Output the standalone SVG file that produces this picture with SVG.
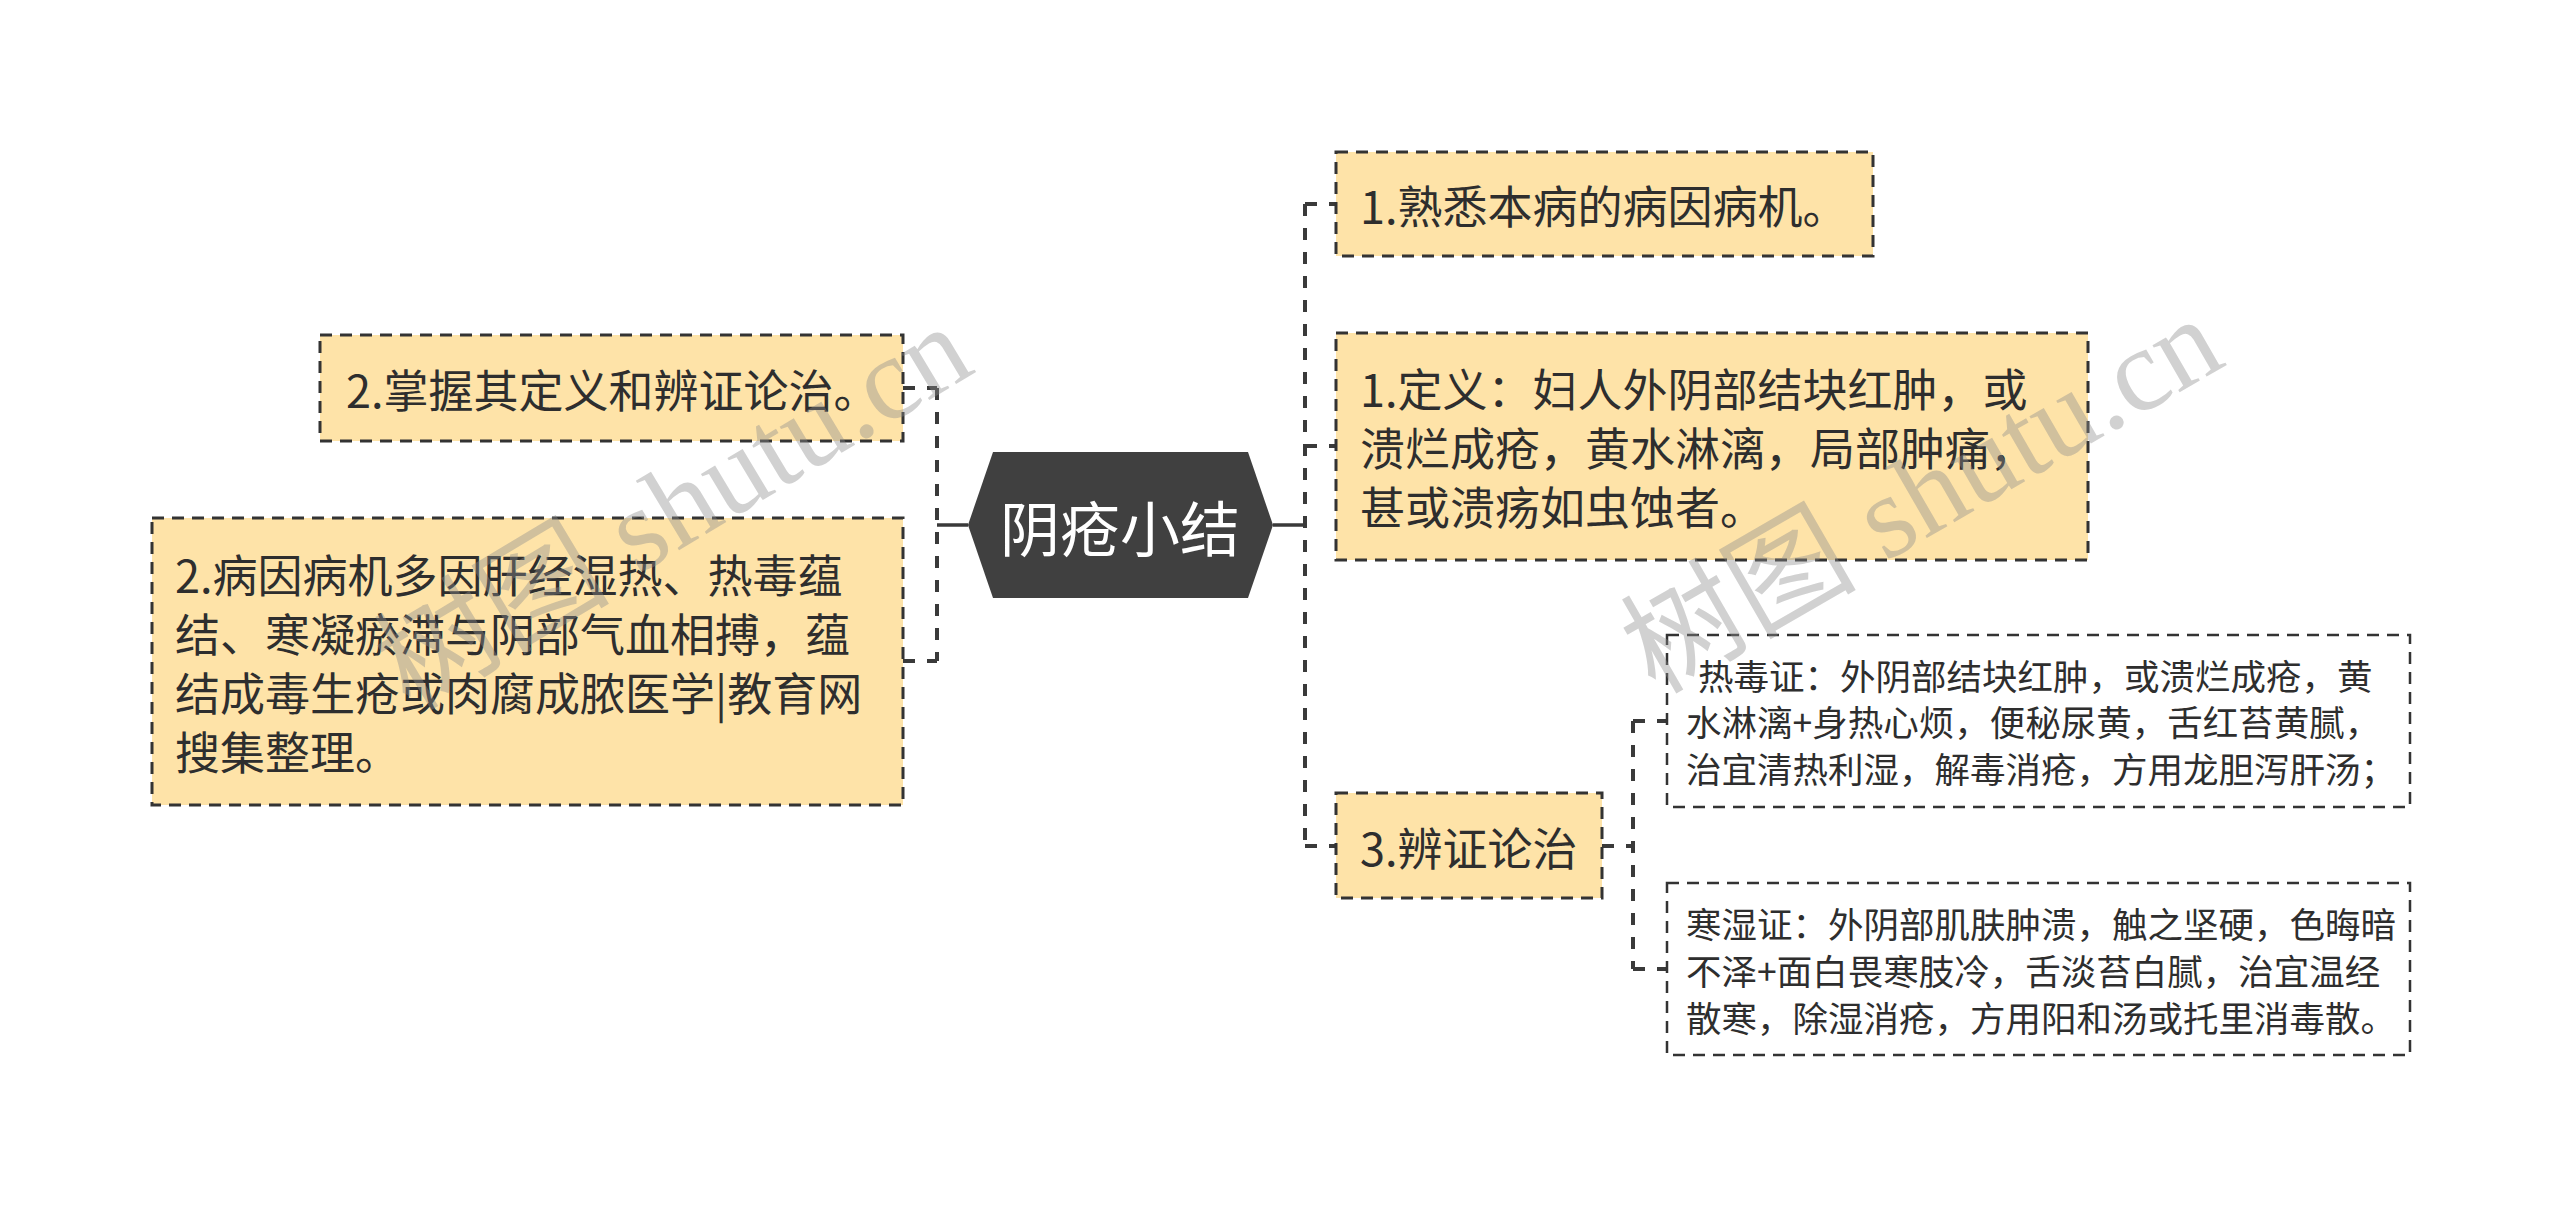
<svg xmlns="http://www.w3.org/2000/svg" width="2560" height="1206" viewBox="0 0 2560 1206">
<style>
.box{fill:#FEE3A8;stroke:#333;stroke-width:3;stroke-dasharray:12 8}
.wbox{fill:#fff;stroke:#333;stroke-width:2.5;stroke-dasharray:12 8}
.t{font-family:"Noto Sans CJK SC","Noto Sans",sans-serif;font-size:45px;fill:#2e2e2e;dominant-baseline:central}
.s{font-family:"Noto Sans CJK SC","Noto Sans",sans-serif;font-size:35.5px;fill:#2e2e2e;dominant-baseline:central}
.c{font-family:"Noto Sans CJK SC","Noto Sans",sans-serif;font-size:60px;fill:#fff;dominant-baseline:central;text-anchor:middle}
.dl{fill:none;stroke:#3a3a3a;stroke-width:4;stroke-dasharray:12 12}
.sl{fill:none;stroke:#3a3a3a;stroke-width:3.5}
.wm{font-family:"Liberation Serif","Noto Sans CJK SC",serif;font-size:118px;fill:#8c8c8c;fill-opacity:0.4}
</style>
<rect width="2560" height="1206" fill="#fff"/>
<g id="connectors">
<path class="sl" d="M1273 525 H1305"/>
<path class="sl" d="M968 525 H937"/>
<path class="dl" d="M1305 204 V846"/>
<path class="dl" d="M1305 204 H1336 M1305 446 H1336 M1305 846 H1336"/>
<path class="dl" d="M937 388 V661"/>
<path class="dl" d="M903 388 H937 M903 661 H937"/>
<path class="dl" d="M1602 846 H1633"/>
<path class="dl" d="M1633 721 V969"/>
<path class="dl" d="M1633 721 H1667 M1633 969 H1667"/>
</g>
<g id="center">
<polygon points="968,525 993,452 1248,452 1273,525 1248,598 993,598" fill="#404040"/>
<text class="c" x="1120" y="525">阴疮小结</text>
</g>
<g id="r1">
<rect class="box" x="1336" y="152" width="537" height="104"/>
<text class="t" x="1360" y="204">1.熟悉本病的病因病机。</text>
</g>
<g id="r2">
<rect class="box" x="1336" y="333" width="752" height="227"/>
<text class="t" x="1360" y="387">1.定义：妇人外阴部结块红肿，或</text>
<text class="t" x="1360" y="446">溃烂成疮，黄水淋漓，局部肿痛，</text>
<text class="t" x="1360" y="505">甚或溃疡如虫蚀者。</text>
</g>
<g id="r3">
<rect class="box" x="1336" y="793" width="266" height="105"/>
<text class="t" x="1360" y="846">3.辨证论治</text>
</g>
<g id="c1">
<rect class="wbox" x="1667" y="635" width="743" height="172"/>
<text class="s" x="1698" y="674">热毒证：外阴部结块红肿，或溃烂成疮，黄</text>
<text class="s" x="1686" y="720">水淋漓+身热心烦，便秘尿黄，舌红苔黄腻，</text>
<text class="s" x="1686" y="767">治宜清热利湿，解毒消疮，方用龙胆泻肝汤；</text>
</g>
<g id="c2">
<rect class="wbox" x="1667" y="883" width="743" height="172"/>
<text class="s" x="1686" y="922">寒湿证：外阴部肌肤肿溃，触之坚硬，色晦暗</text>
<text class="s" x="1686" y="969">不泽+面白畏寒肢冷，舌淡苔白腻，治宜温经</text>
<text class="s" x="1686" y="1016">散寒，除湿消疮，方用阳和汤或托里消毒散。</text>
</g>
<g id="l1">
<rect class="box" x="320" y="335" width="583" height="106"/>
<text class="t" x="346" y="388">2.掌握其定义和辨证论治。</text>
</g>
<g id="l2">
<rect class="box" x="152" y="518" width="751" height="287"/>
<text class="t" x="175" y="573">2.病因病机多因肝经湿热、热毒蕴</text>
<text class="t" x="175" y="632">结、寒凝瘀滞与阴部气血相搏，蕴</text>
<text class="t" x="175" y="691">结成毒生疮或肉腐成脓医学|教育网</text>
<text class="t" x="175" y="750">搜集整理。</text>
</g>
<g id="watermarks">
<text class="wm" transform="translate(410,712) rotate(-31)">树图 shutu.cn</text>
<text class="wm" transform="translate(1655,695) rotate(-30)">树图 shutu.cn</text>
</g>
</svg>
